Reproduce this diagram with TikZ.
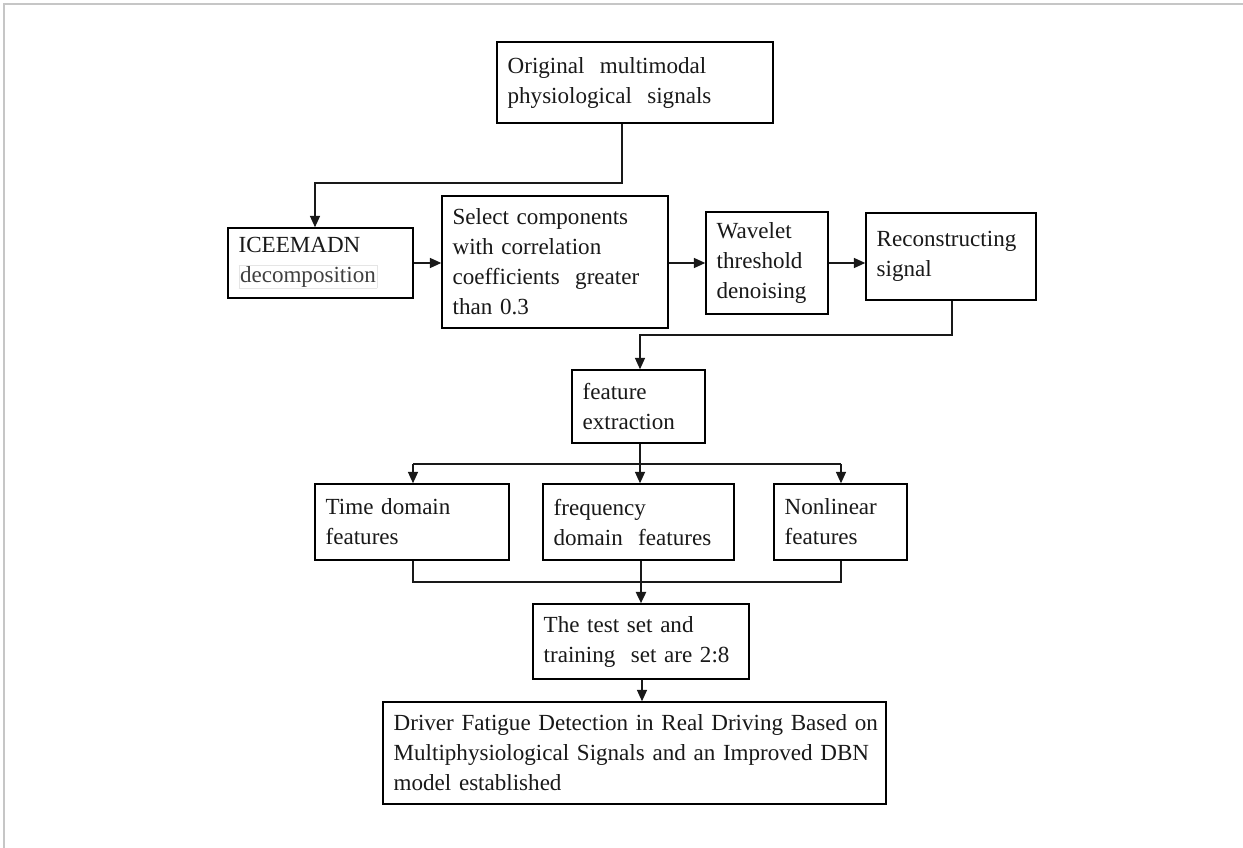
\documentclass[tikz,border=0pt]{standalone}
\usepackage{fontspec}
\setmainfont{Liberation Serif}
\usetikzlibrary{arrows.meta}
\begin{document}
\begin{tikzpicture}[x=0.75pt,y=-0.75pt,
  box/.style={draw=black, line width=1.1pt, inner xsep=8pt, inner ysep=2pt, align=left,
    font=\fontsize{17.3}{22.5}\selectfont, text=black!90},
  conn/.style={draw=black!90, line width=1pt},
  arr/.style={conn, -{Triangle[length=8.5pt,width=7.5pt]}}]
\useasboundingbox (0,0) rectangle (1243,848);
\fill[white] (0,0) rectangle (1243,848);
\draw[gray!45, line width=1.5pt] (4,848) -- (4,4) -- (1243,4);

\node[box, text width=191pt, minimum height=60.75pt] (orig) at (635,82.5)
  {Original\ \ multimodal\\physiological\ \ signals};
\node[box, text width=122.75pt, minimum height=52.5pt] (ice) at (320.5,263)
  {ICEEMADN\\{\setlength\fboxsep{0.6pt}\setlength\fboxrule{0.4pt}\fcolorbox{gray!20}{white}{\color{black!75}decomposition}}};
\node[box, text width=153.5pt, minimum height=99pt] (sel) at (555,262)
  {Select components\\with correlation\\coefficients\ \ greater\\than 0.3};
\node[box, text width=75.5pt, minimum height=76.5pt] (wav) at (767,263)
  {Wavelet\\threshold\\denoising};
\node[box, text width=111.5pt, minimum height=65.25pt] (rec) at (951,256.5)
  {Reconstructing\\signal};
\node[box, text width=83.75pt, minimum height=54.75pt] (feat) at (638.5,406.5)
  {feature\\extraction};
\node[box, text width=129.5pt, minimum height=57pt] (time) at (412,522)
  {Time domain\\features};
\node[box, text width=127.25pt, minimum height=57pt] (freq) at (638.5,522)
  {frequency\\domain\ \ features};
\node[box, text width=83.75pt, minimum height=57pt] (nonl) at (840.5,522)
  {Nonlinear\\features};
\node[box, text width=146pt, minimum height=56.25pt] (test) at (641,641.5)
  {The test set and\\training\ \ set are 2:8};
\node[box, text width=361.25pt, minimum height=76.5pt] (final) at (634.5,753)
  {\mbox{Driver Fatigue Detection in Real Driving Based on}\\\mbox{Multiphysiological Signals and an Improved DBN}\\model established};

% bend points
\coordinate (b1) at (622,183);
\coordinate (b2) at (315,183);
\coordinate (b3) at (952,335);
\coordinate (b4) at (640,335);
\coordinate (b5) at (640,464);
\coordinate (bl) at (413,464);
\coordinate (br) at (841,464);
\coordinate (m)  at (641,582);
\coordinate (ml) at (413,582);
\coordinate (mr) at (841,582);
\coordinate (fx) at (642,700);

\draw[arr] (orig.south -| b1) -- (b1) -- (b2) -- (ice.north -| b2);
\draw[arr] (ice.east) -- (ice.east -| sel.west);
\draw[arr] (wav.west -| sel.east) -- (wav.west);
\draw[arr] (wav.east) -- (wav.east -| rec.west);
\draw[arr] (rec.south -| b3) -- (b3) -- (b4) -- (feat.north -| b4);

\draw[conn] (feat.south -| b5) -- (b5);
\draw[conn] (bl) -- (br);
\draw[arr] (bl) -- (time.north -| bl);
\draw[arr] (b5) -- (freq.north -| b5);
\draw[arr] (br) -- (nonl.north -| br);

\draw[conn] (time.south -| ml) -- (ml) -- (mr) -- (nonl.south -| mr);
\draw[conn] (freq.south -| m) -- (m);
\draw[arr, line width=1.8pt] (m) -- (test.north -| m);

\draw[arr] (test.south -| fx) -- (final.north -| fx);
\end{tikzpicture}
\end{document}
